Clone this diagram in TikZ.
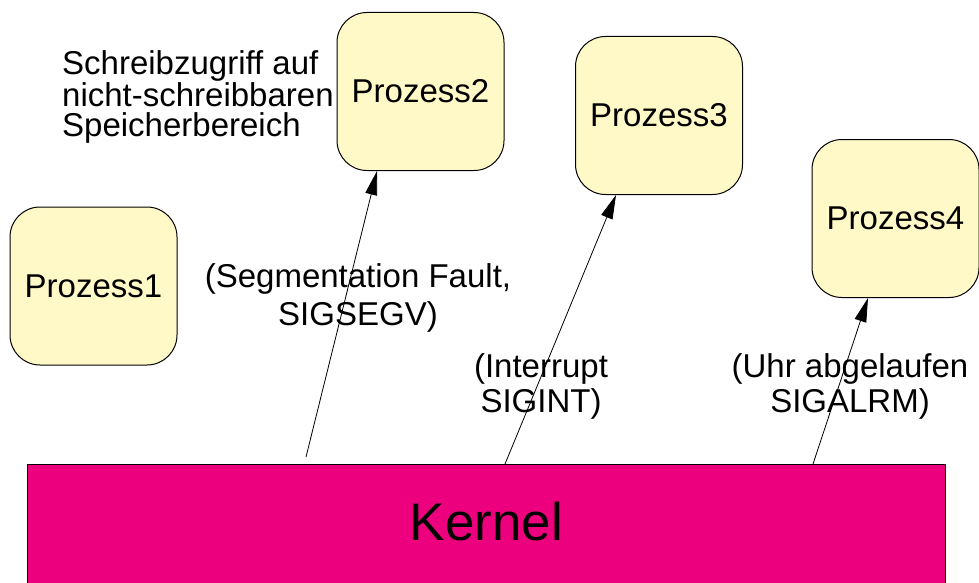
\documentclass[tikz,border=0pt]{standalone}
\usepackage{fontspec}
\setmainfont{Liberation Sans}
\usetikzlibrary{arrows.meta}
\definecolor{procfill}{RGB}{255,249,199}
\definecolor{kernelfill}{RGB}{237,0,125}
\begin{document}
\begin{tikzpicture}[x=1pt,y=-1pt,
  proc/.style={draw=black, line width=1pt, fill=procfill, rounded corners=30pt,
    minimum width=167pt, minimum height=158pt, inner sep=0pt,
    font=\fontsize{33}{38}\selectfont},
  lbl/.style={align=center, inner sep=0pt},
  sig/.style={-{Triangle[length=24pt,width=12pt]}, line width=0.8pt, draw=black}]
\useasboundingbox (0,0) rectangle (979,583);
% Kernel
\node[draw=black, fill=kernelfill, line width=1pt, minimum width=918pt,
  minimum height=150pt, anchor=north west, inner sep=0pt,
  text height=38pt, text depth=36pt, font=\fontsize{53}{60}\selectfont]
  (kernel) at (27,464) {Kernel};
% processes
\node[proc] (p1) at (93.5,286) {Prozess1};
\node[proc] (p2) at (420.5,91.5) {Prozess2};
\node[proc] (p3) at (659,115.5) {Prozess3};
\node[proc] (p4) at (895.5,218.5) {Prozess4};
% free ends on the kernel
\coordinate (k1) at (306,457);
\coordinate (k2) at (505,464);
\coordinate (k3) at (813,464);
% signals
\draw[sig] (k1) -- ([xshift=-43.5pt]p2.south);
\draw[sig] (k2) -- ([xshift=-43pt]p3.south);
\draw[sig] (k3) -- ([xshift=-27.5pt]p4.south);
% labels
\node[align=left, inner sep=0pt, anchor=base west,
  font=\fontsize{33}{30}\selectfont] (note) at (62,136)
  {Schreibzugriff auf\\nicht-schreibbaren\\Speicherbereich};
\node[lbl, anchor=base, font=\fontsize{33}{38}\selectfont] (l1) at (358,325)
  {(Segmentation Fault,\\SIGSEGV)};
\node[lbl, anchor=base, font=\fontsize{33}{35}\selectfont] (l2) at (541,412)
  {(Interrupt\\SIGINT)};
\node[lbl, anchor=base, font=\fontsize{33}{35}\selectfont] (l3) at (850,412)
  {(Uhr abgelaufen\\SIGALRM)};
\end{tikzpicture}
\end{document}
